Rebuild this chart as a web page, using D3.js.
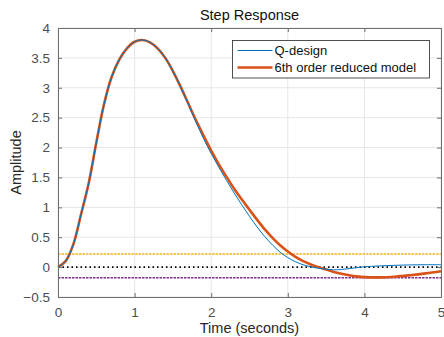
<!DOCTYPE html>
<html>
<head>
<meta charset="utf-8">
<script src="https://cdn.jsdelivr.net/npm/d3@7"></script>
<style>
    body { margin: 0; background: #fff; }
    svg { display: block; font-family: "Liberation Sans", Arial, sans-serif; }
</style>
</head>
<body>
<div class="step-chart"></div>
<script>
// readings from the step response plot (seconds / amplitude)
const times = [0, 0.1, 0.2, 0.3, 0.4, 0.5, 0.6, 0.7, 0.8, 0.9, 1.0, 1.1, 1.2, 1.3, 1.4, 1.5, 1.6, 1.7, 1.8, 1.9,
    2.0, 2.1, 2.2, 2.3, 2.4, 2.5, 2.6, 2.7, 2.8, 2.9, 3.0, 3.1, 3.2, 3.3, 3.4, 3.5, 3.6, 3.7, 3.8, 3.9,
    4.0, 4.2, 4.4, 4.6, 4.8, 5.0];
const valuesQ = [0, 0.1, 0.38, 0.88, 1.4, 2.08, 2.72, 3.18, 3.47, 3.66, 3.77, 3.8, 3.76, 3.66, 3.5, 3.28, 3.02, 2.73, 2.43, 2.15,
    1.9, 1.67, 1.45, 1.24, 1.04, 0.85, 0.67, 0.51, 0.37, 0.25, 0.16, 0.09, 0.04, 0.005, -0.02, -0.035, -0.045, -0.04, -0.025, -0.01,
    0.005, 0.02, 0.03, 0.037, 0.04, 0.04];
const valuesReduced = [0, 0.1, 0.38, 0.88, 1.4, 2.08, 2.72, 3.18, 3.47, 3.66, 3.77, 3.8, 3.76, 3.66, 3.5, 3.28, 3.02, 2.74, 2.46, 2.2,
    1.95, 1.72, 1.51, 1.31, 1.13, 0.96, 0.79, 0.63, 0.49, 0.365, 0.26, 0.17, 0.1, 0.045, 0.0, -0.04, -0.08, -0.11, -0.135, -0.155,
    -0.167, -0.172, -0.16, -0.135, -0.105, -0.07];

const refLevels = [0.22, 0, -0.18];
const refColors = ["#EDB120", "#000000", "#7E2F8E"];

const xTicks = [0, 1, 2, 3, 4, 5];
const yTicks = [-0.5, 0, 0.5, 1, 1.5, 2, 2.5, 3, 3.5, 4];
const seriesNames = ["Q-design", "6th order reduced model"];
const seriesColors = ["#0072BD", "#D95319"];

let svg = d3.select(".step-chart").append("svg").attr("width", 444).attr("height", 337),
    margin = {top: 28, right: 3, bottom: 40, left: 58},
    width = 444 - margin.left - margin.right,
    height = 337 - margin.top - margin.bottom,
    g = svg.append("g").attr("transform", "translate(" + margin.left + "," + margin.top + ")");

let x = d3.scaleLinear().domain([0, 5]).range([0, width]);
let y = d3.scaleLinear().domain([-0.5, 4]).range([height, 0]);

// grid
g.append("g").selectAll("line").data(xTicks).enter().append("line")
    .attr("x1", d => x(d)).attr("x2", d => x(d))
    .attr("y1", 0).attr("y2", height)
    .attr("stroke", "#e6e6e6").attr("stroke-width", 1);
g.append("g").selectAll("line").data(yTicks).enter().append("line")
    .attr("x1", 0).attr("x2", width)
    .attr("y1", d => y(d)).attr("y2", d => y(d))
    .attr("stroke", "#e6e6e6").attr("stroke-width", 1);

// reference lines
refLevels.forEach(function (level, i) {
    let ln = g.append("line")
        .attr("x1", 0).attr("x2", width)
        .attr("y1", y(level)).attr("y2", y(level))
        .attr("stroke", refColors[i]);
    if (level === 0) {
        ln.attr("stroke-width", 1.6).attr("stroke-dasharray", "1.5,3");
    } else {
        ln.attr("stroke-width", 1.5).attr("stroke-dasharray", "2.5,1");
    }
});

let line = d3.line()
    .x(d => x(d[0]))
    .y(d => y(d[1]))
    .curve(d3.curveCatmullRom.alpha(0.5));

g.append("path")
    .datum(d3.zip(times, valuesReduced))
    .attr("fill", "none")
    .attr("stroke", seriesColors[1])
    .attr("stroke-width", 2.6)
    .attr("d", line);

g.append("path")
    .datum(d3.zip(times, valuesQ))
    .attr("fill", "none")
    .attr("stroke", seriesColors[0])
    .attr("stroke-width", 1)
    .attr("d", line);

// axes box with inward ticks
let axisColor = "#6e6e6e";
let bottomAxis = g.append("g")
    .attr("transform", "translate(0," + height + ")")
    .call(d3.axisBottom(x).tickValues(xTicks).tickSize(-4).tickPadding(10).tickFormat(d3.format("d")));
let topAxis = g.append("g")
    .call(d3.axisTop(x).tickValues(xTicks).tickSize(-4).tickFormat(""));
let leftAxis = g.append("g")
    .call(d3.axisLeft(y).tickValues(yTicks).tickSize(-4).tickPadding(8).tickFormat(d => d3.format("")(d)));
let rightAxis = g.append("g")
    .attr("transform", "translate(" + width + ",0)")
    .call(d3.axisRight(y).tickValues(yTicks).tickSize(-4).tickFormat(""));

[bottomAxis, topAxis, leftAxis, rightAxis].forEach(function (ax) {
    ax.select(".domain").attr("stroke", axisColor);
    ax.selectAll(".tick line").attr("stroke", axisColor);
    ax.selectAll(".tick text").attr("fill", "#4d4d4d").attr("font-size", "13.5px")
        .attr("font-family", "\"Liberation Sans\", Arial, sans-serif");
});

// labels
svg.append("text")
    .attr("x", margin.left + width / 2).attr("y", 20)
    .attr("text-anchor", "middle").attr("font-size", "14.5px").attr("fill", "#111")
    .text("Step Response");
svg.append("text")
    .attr("x", margin.left + width / 2).attr("y", 333)
    .attr("text-anchor", "middle").attr("font-size", "14.5px").attr("fill", "#262626")
    .text("Time (seconds)");
svg.append("text")
    .attr("transform", "translate(21," + (margin.top + height / 2) + ") rotate(-90)")
    .attr("text-anchor", "middle").attr("font-size", "14.5px").attr("fill", "#262626")
    .text("Amplitude");

// legend
let legend = svg.append("g").attr("transform", "translate(232.5,40.5)");
legend.append("rect")
    .attr("width", 197).attr("height", 37.5)
    .attr("fill", "#fff").attr("stroke", "#262626").attr("stroke-width", 0.8);
seriesNames.forEach(function (name, i) {
    let yy = 10 + i * 17;
    legend.append("line")
        .attr("x1", 5).attr("x2", 40).attr("y1", yy).attr("y2", yy)
        .attr("stroke", seriesColors[i]).attr("stroke-width", i === 0 ? 1 : 2.6);
    legend.append("text")
        .attr("x", 42).attr("y", yy + 4.5)
        .attr("font-size", "13px").attr("fill", "#111")
        .text(name);
});
</script>
</body>
</html>
